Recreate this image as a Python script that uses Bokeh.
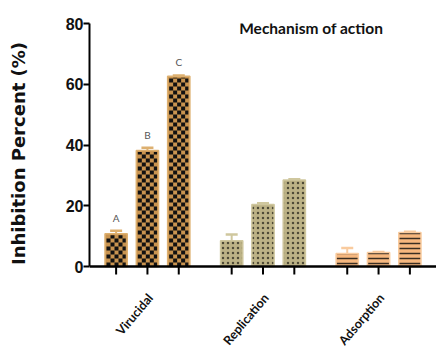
import math

from bokeh.core.properties import value
from bokeh.embed import file_html
from bokeh.layouts import row
from bokeh.models import (ColumnDataSource, FixedTicker, Label, LabelSet, Range1d,
                          TeeHead, Whisker)
from bokeh.plotting import figure
from bokeh.resources import INLINE

# ---------------- data ----------------
groups = ["Virucidal", "Replication", "Adsorption"]
virucidal_values = [10.8, 38.2, 62.6]
virucidal_errors = [1.0, 0.9, 0.3]
replication_values = [8.5, 20.4, 28.5]
replication_errors = [2.0, 0.4, 0.2]
adsorption_values = [4.3, 4.6, 11.2]
adsorption_errors = [1.8, 0.2, 0.2]
virucidal_letters = ["A", "B", "C"]
y_ticks = [0, 20, 40, 60, 80]
y_title = "Inhibition Percent (%)"

# ---------------- layout constants ----------------
W, H = 436, 350
STRIP_W = 40           # narrow strip on the left that carries the y title
FRAME_L, FRAME_T = 89, 23
ZERO_PX = 266          # pixel row of y = 0
GROUP_GAP = 0.69       # extra gap between groups, in bar slots
BAR_W = 0.71           # bar width, in bar slots
X_PAD = 0.85
Y_MAX = 80
TICK_PX = 8
TICK_W_PX = 2

all_values = [virucidal_values, replication_values, adsorption_values]
all_errors = [virucidal_errors, replication_errors, adsorption_errors]
n_per_group = len(virucidal_values)
positions = [[gi * (n_per_group + GROUP_GAP) + si for si in range(len(vals))]
             for gi, vals in enumerate(all_values)]
flat_pos = [x for grp in positions for x in grp]
centers = [grp[len(grp) // 2] for grp in positions]

x_start = min(flat_pos) - X_PAD
x_end = max(flat_pos) + X_PAD
px_per_x = (W - FRAME_L) / (x_end - x_start)
px_per_y = (ZERO_PX - FRAME_T) / Y_MAX
y_start = -(H - ZERO_PX) / px_per_y
y_range = Range1d(y_start, Y_MAX)

p = figure(width=W - STRIP_W, height=H, x_range=Range1d(x_start, x_end), y_range=y_range,
           output_backend="svg", toolbar_location=None, x_axis_location="above",
           min_border_left=FRAME_L - STRIP_W, min_border_right=0,
           min_border_top=FRAME_T, min_border_bottom=0)
p.outline_line_color = None
p.xgrid.grid_line_color = None
p.ygrid.grid_line_color = None

styles = [
    dict(fill="#C99450", line="#DDB070", hatch={}),
    dict(fill="#BCB286", line="#CFC79E",
         hatch=dict(hatch_pattern="dot", hatch_color="#4E4A36", hatch_scale=5, hatch_weight=0.6)),
    dict(fill="#F6B77E", line="#F9CB9E",
         hatch=dict(hatch_pattern="horizontal_line", hatch_color="#3A2E22", hatch_scale=5,
                    hatch_weight=1.5)),
]

sources = []
for pos, vals, errs, st in zip(positions, all_values, all_errors, styles):
    src = ColumnDataSource(dict(
        x=pos, value=vals, upper=[v + e for v, e in zip(vals, errs)],
    ))
    sources.append(src)
    p.add_layout(Whisker(source=src, base="x", upper="upper", lower="value",
                         line_color=st["line"], line_width=2,
                         upper_head=TeeHead(size=12, line_color=st["line"], line_width=2.5),
                         lower_head=None, level="underlay"))
    p.vbar(x="x", top="value", width=BAR_W, source=src, fill_color=st["fill"],
           line_color=st["line"], line_width=1.5, **st["hatch"])

# checkerboard pattern for the virucidal bars (cells derived from the bar values)
CELL_PX = 4.0
INSET_PX = 1.5
cdx = CELL_PX / px_per_x
cdy = CELL_PX / px_per_y
ix = INSET_PX / px_per_x
iy = INSET_PX / px_per_y
ql, qr, qb, qt = [], [], [], []
for x, v in zip(positions[0], virucidal_values):
    left, right = x - BAR_W / 2 + ix, x + BAR_W / 2 - ix
    top = v - iy
    j = 0
    y0 = 0.0
    while y0 < top:
        y1 = min(y0 + cdy, top)
        i = 0
        x0 = left
        while x0 < right:
            x1 = min(x0 + cdx, right)
            if (i + j) % 2 == 0:
                ql.append(x0); qr.append(x1); qb.append(y0); qt.append(y1)
            x0 += cdx
            i += 1
        y0 += cdy
        j += 1
p.quad(left=ql, right=qr, bottom=qb, top=qt, fill_color="#111111", line_color=None)

# tick marks under every bar
p.vbar(x=flat_pos, top=[0] * len(flat_pos), bottom=[-TICK_PX / px_per_y] * len(flat_pos),
       width=TICK_W_PX / px_per_x, fill_color="black", line_color=None)

# letters above virucidal bars
sources[0].data["letter"] = virucidal_letters
p.add_layout(LabelSet(x="x", y="upper", text="letter", source=sources[0], y_offset=13,
                      text_align="center", text_baseline="middle", text_font=value("Lato"),
                      text_font_size="10px", text_color="#555555"))

# group labels, rotated, under each group centre
p.text(x=[c + 3 / px_per_x for c in centers], y=[-29 / px_per_y] * len(centers), text=groups,
       angle=0.87, text_align="right", text_baseline="middle",
       text_font=value("Lato"), text_font_style="bold",
       text_font_size="12.5px", text_color="#111111")

# title inside the plot area
p.add_layout(Label(x=3.93, y=78.6, text="Mechanism of action", text_align="left",
                   text_baseline="middle", text_font="Lato", text_font_style="bold",
                   text_font_size="15.5px", text_color="#111111"))

# y axis: ticks and numbers
ya = p.yaxis[0]
ya.ticker = y_ticks
ya.bounds = (0, Y_MAX)
ya.axis_line_width = 2
ya.major_tick_line_width = 2
ya.major_tick_out = 6
ya.major_tick_in = 0
ya.minor_tick_line_color = None
ya.major_label_standoff = 0
ya.major_label_text_font = "Liberation Sans"
ya.major_label_text_font_style = "bold"
ya.major_label_text_font_size = "16px"
ya.major_label_text_color = "#111111"

# x axis line drawn at y = 0
xa = p.xaxis[0]
xa.fixed_location = 0
xa.ticker = FixedTicker(ticks=flat_pos)
xa.axis_line_width = 2.5
xa.major_tick_line_color = None
xa.minor_tick_line_color = None
xa.major_label_text_color = None

# left strip with the y axis title
strip = figure(width=STRIP_W, height=H, x_range=Range1d(0, STRIP_W), y_range=y_range,
               output_backend="svg", toolbar_location=None,
               x_axis_location=None, y_axis_location=None,
               min_border_left=0, min_border_right=0, min_border_top=FRAME_T, min_border_bottom=0)
strip.outline_line_color = None
strip.xgrid.grid_line_color = None
strip.ygrid.grid_line_color = None
strip.text(x=[18], y=[(ZERO_PX - 153) / px_per_y], text=[y_title], angle=math.pi / 2,
           text_align="center", text_baseline="middle",
           text_font=value("DejaVu Sans"), text_font_style="bold",
           text_font_size="18px", text_color="#111111")

layout = row(strip, p, spacing=0)
open("out.html", "w").write(file_html(layout, INLINE))
